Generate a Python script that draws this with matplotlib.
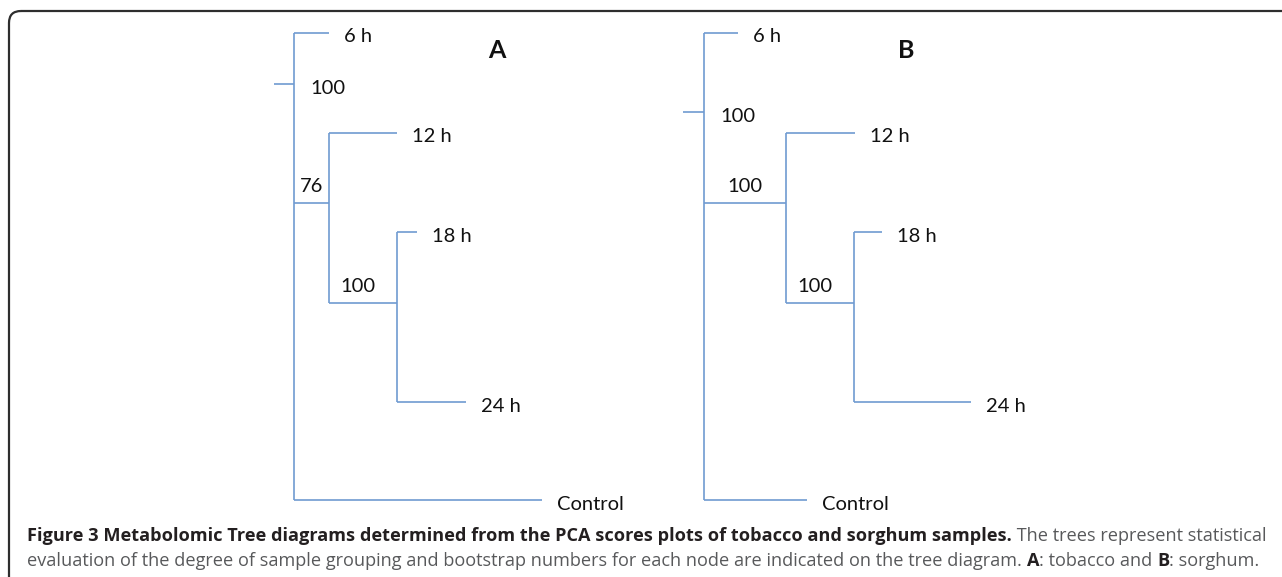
import matplotlib
matplotlib.use("agg")
import matplotlib.pyplot as plt
from matplotlib.patches import FancyBboxPatch

W, H = 1282, 577

# leaves share the same rows in both trees
leaf_labels = ["6 h", "12 h", "18 h", "24 h", "Control"]
leaf_y = [33, 133, 232, 402, 500]
# internal node attach heights: n2 (12 h clade), n3 (18/24 h clade)
clade_y = [203, 303]

# depths from the root: [root, n1, n2, n3]
tobacco_node_depth = [0, 20, 55, 123]
tobacco_leaf_depth = [55, 123, 143, 192, 268]
tobacco_root_y = 84
tobacco_boot = [100, 76, 100]

sorghum_node_depth = [0, 21, 103, 171]
sorghum_leaf_depth = [55, 172, 199, 288, 124]
sorghum_root_y = 112
sorghum_boot = [100, 100, 100]

LINE = "#6f9bd1"
TREE_FONT = ["Lato", "DejaVu Sans"]
CAP_FONT = ["Open Sans", "DejaVu Sans"]
TREE_SIZE = 14.5

fig = plt.figure(figsize=(W / 100, H / 100), dpi=100)
ax = fig.add_axes([0, 0, 1, 1])
ax.set_xlim(0, W)
ax.set_ylim(H, 0)
ax.axis("off")

# rounded frame, open to the right and bottom
ax.add_patch(FancyBboxPatch((9, 11), 1400, 700,
                            boxstyle="round,pad=0,rounding_size=12",
                            fill=False, ec="#2e2e2e", lw=1.6, clip_on=True))


def seg(x1, y1, x2, y2):
    ax.plot([x1, x2], [y1, y2], color=LINE, lw=1.2, solid_capstyle="butt")


def label(x, y, s, ha="left"):
    ax.text(x, y, s, ha=ha, va="center", fontsize=TREE_SIZE,
            family=TREE_FONT, color="#111111")


def draw_tree(x0, nd, ld, root_y, boot, letter, letter_x):
    r, n1, n2, n3 = [x0 + d for d in nd]
    lx = [x0 + d for d in ld]
    y2, y3 = clade_y
    # root stub and main vertical
    seg(r, root_y, n1, root_y)
    seg(n1, leaf_y[0], n1, leaf_y[4])
    # children of n1: 6 h, clade n2, Control
    seg(n1, leaf_y[0], lx[0], leaf_y[0])
    seg(n1, y2, n2, y2)
    seg(n1, leaf_y[4], lx[4], leaf_y[4])
    # clade n2: 12 h and clade n3
    seg(n2, leaf_y[1], n2, y3)
    seg(n2, leaf_y[1], lx[1], leaf_y[1])
    seg(n2, y3, n3, y3)
    # clade n3: 18 h and 24 h
    seg(n3, leaf_y[2], n3, leaf_y[3])
    seg(n3, leaf_y[2], lx[2], leaf_y[2])
    seg(n3, leaf_y[3], lx[3], leaf_y[3])

    for name, x, y in zip(leaf_labels, lx, leaf_y):
        label(x + 15, y + 4, name)

    label(n1 + 16, root_y + 4, str(boot[0]))
    label((n1 + n2) / 2, y2 - 16, str(boot[1]), ha="center")
    label((n2 + n3) / 2 - 5, y3 - 17, str(boot[2]), ha="center")
    ax.text(letter_x, 50, letter, ha="center", va="center", fontsize=18,
            fontweight="bold", family=TREE_FONT, color="#111111")


draw_tree(274, tobacco_node_depth, tobacco_leaf_depth, tobacco_root_y,
          tobacco_boot, "A", 497)
draw_tree(683, sorghum_node_depth, sorghum_leaf_depth, sorghum_root_y,
          sorghum_boot, "B", 906)

# caption, written as runs of bold/regular text
DARK, GREY = "#231f20", "#58595b"
cap_lines = [
    [("Figure 3 Metabolomic Tree diagrams determined from the PCA scores "
      "plots of tobacco and sorghum samples.", "bold", DARK),
     (" The trees represent statistical", "normal", GREY)],
    [("evaluation of the degree of sample grouping and bootstrap numbers for "
      "each node are indicated on the tree diagram. ", "normal", GREY),
     ("A", "bold", DARK), (": tobacco and ", "normal", GREY),
     ("B", "bold", DARK), (": sorghum.", "normal", GREY)],
]
cap_y = [536, 561]
cap_x = 27
line1_width = 1235

renderer = fig.canvas.get_renderer()


def place_runs(runs, y, size):
    x = cap_x
    items = []
    for s, wt, col in runs:
        t = ax.text(x, y, s, ha="left", va="center", fontsize=size,
                    fontweight=wt, family=CAP_FONT, color=col)
        x += t.get_window_extent(renderer).width
        items.append(t)
    return items, x - cap_x


size = 12
items, w = place_runs(cap_lines[0], cap_y[0], size)
for t in items:
    t.remove()
size = size * line1_width / w
for runs, y in zip(cap_lines, cap_y):
    place_runs(runs, y, size)

fig.savefig("out.png", dpi=100)
